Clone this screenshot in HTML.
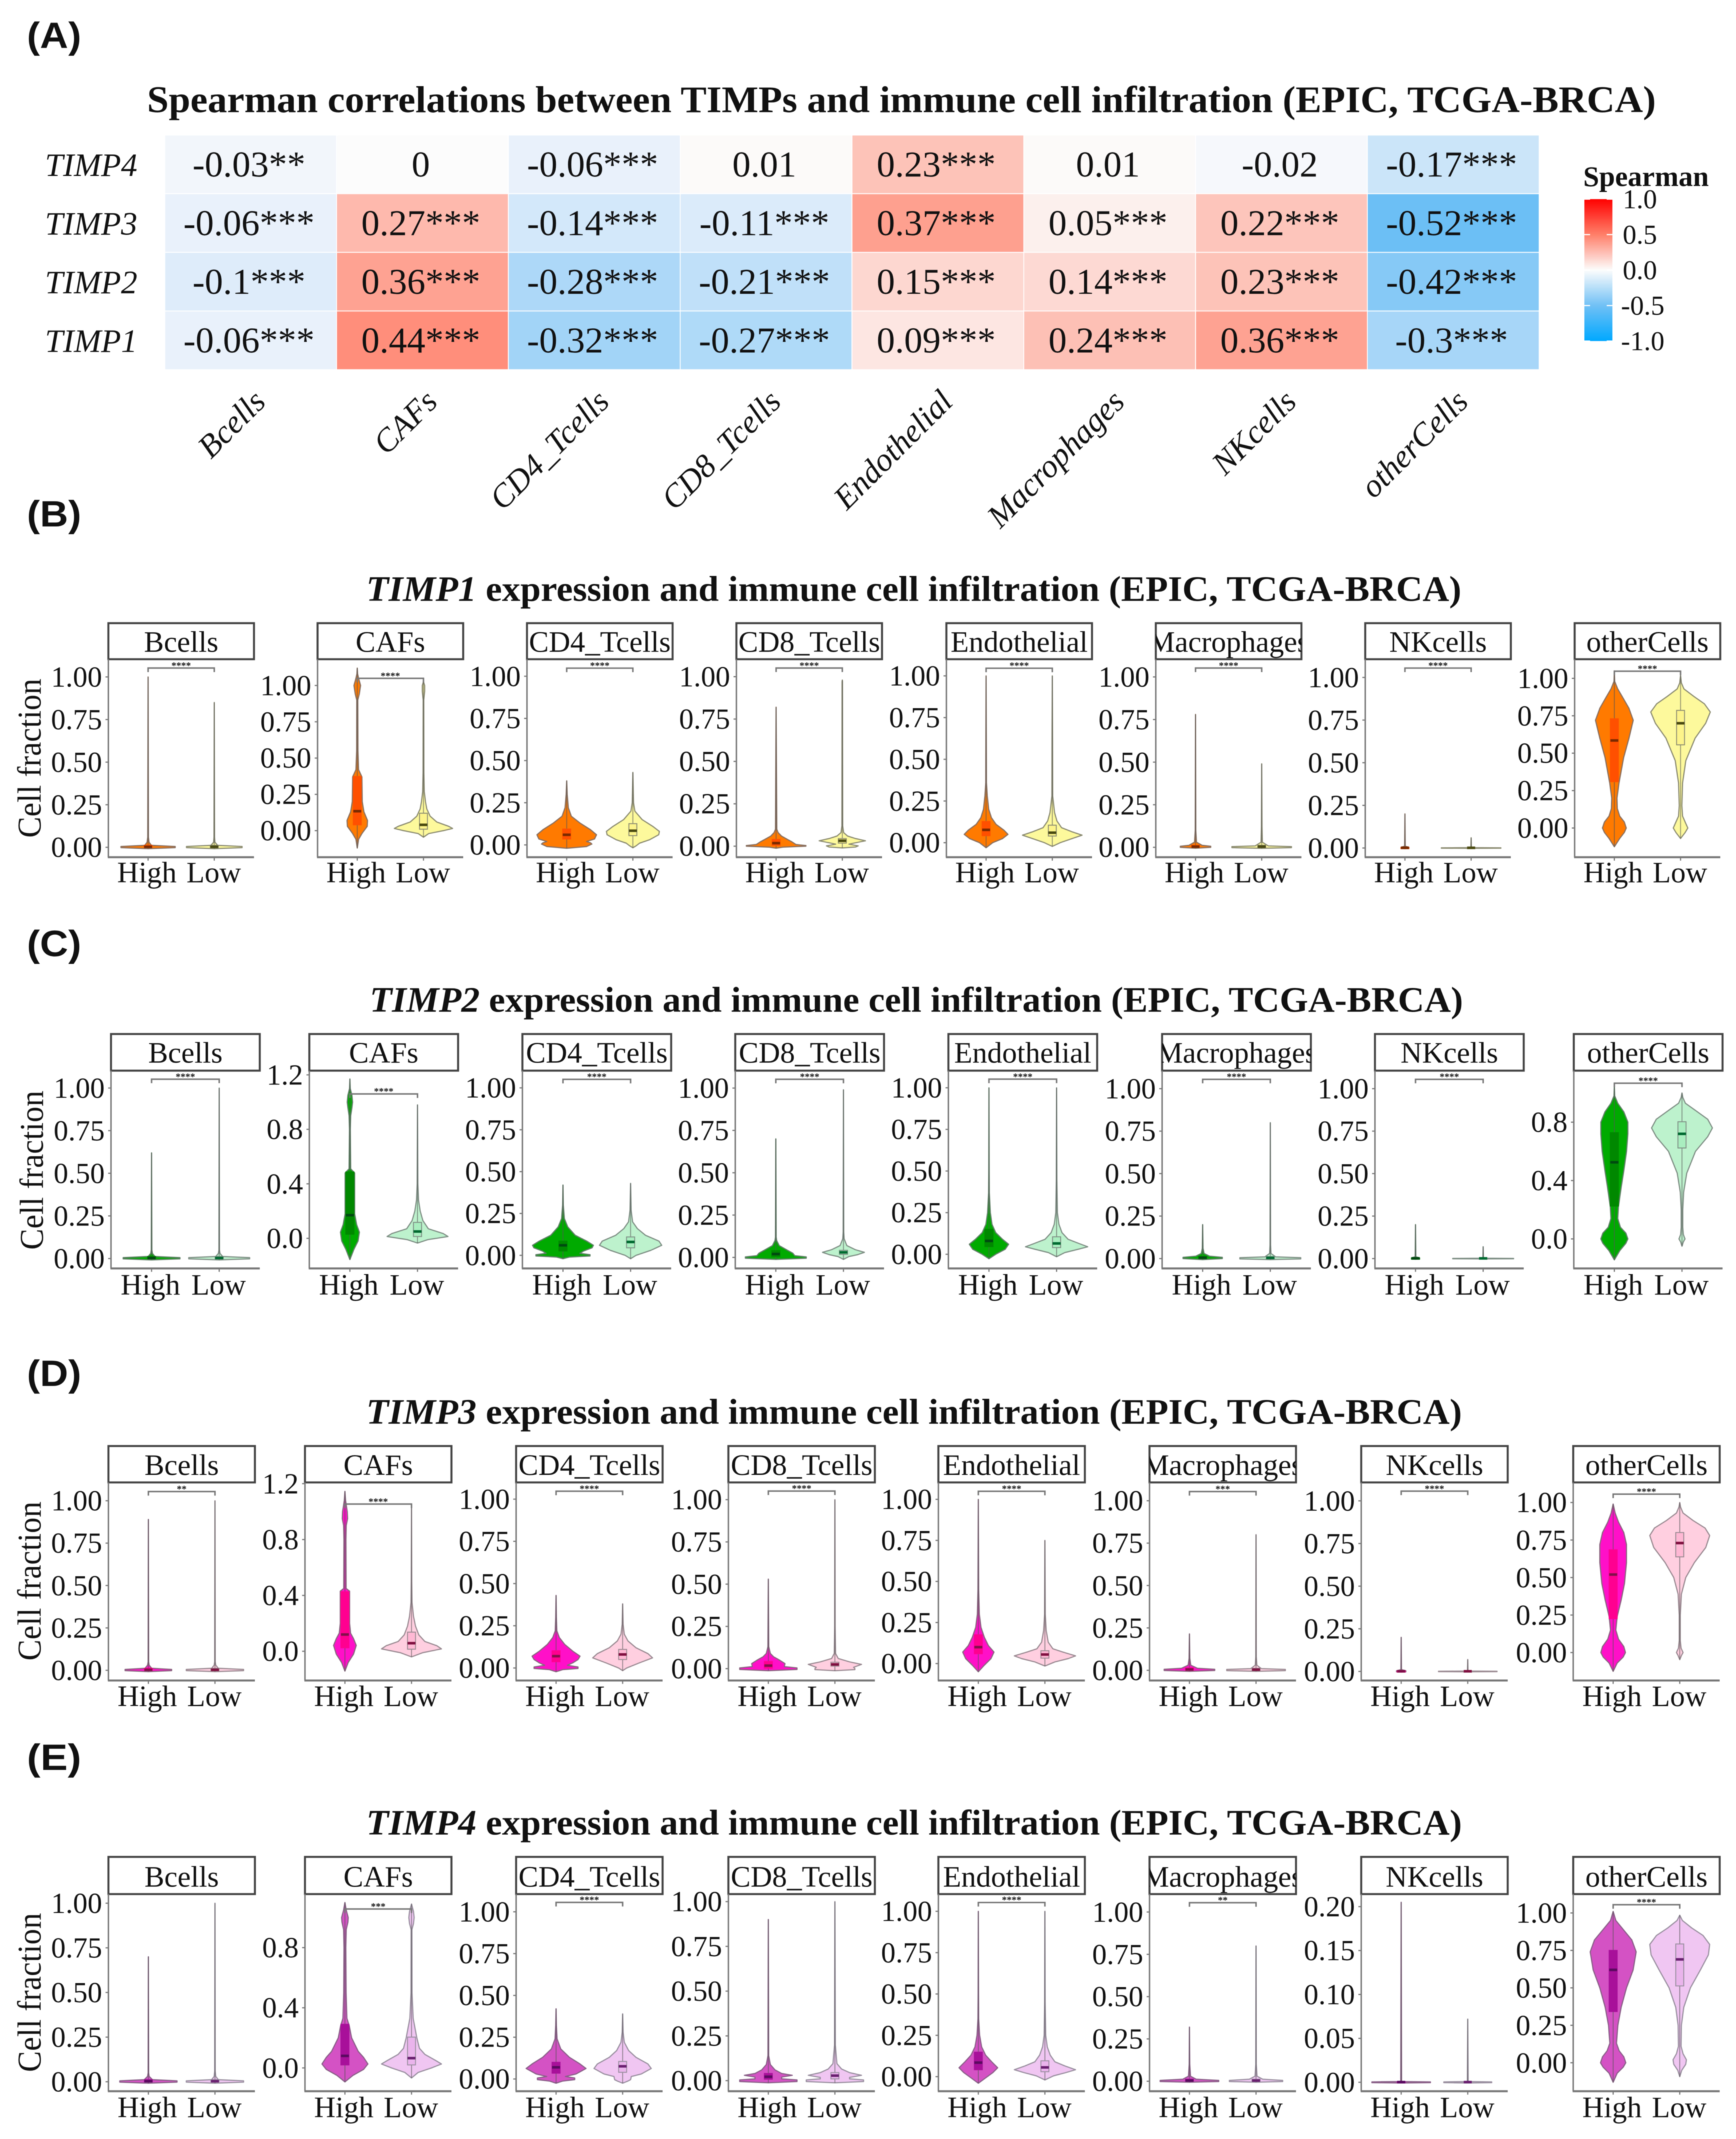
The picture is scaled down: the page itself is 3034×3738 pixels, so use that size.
<!DOCTYPE html>
<html lang="en">
<head>
<meta charset="utf-8">
<title>TIMPs and immune cell infiltration</title>
<style>
html,body{margin:0;padding:0;background:#fff;}
svg{display:block;}
text{font-family:"Liberation Serif",serif;fill:#111;}
.letter{font-family:"Liberation Sans",sans-serif;font-weight:700;font-size:64px;}
.ttl{font-weight:700;font-size:62px;}
</style>
</head>
<body>
<svg id="figure" xmlns="http://www.w3.org/2000/svg" width="3034" height="3738" viewBox="0 0 3034 3738" style="filter:blur(.9px)">
<rect width="3034" height="3738" fill="#fff"/>
<text class="letter" x="47" y="84" textLength="95" lengthAdjust="spacingAndGlyphs">(A)</text>
<text class="letter" x="47" y="920" textLength="95" lengthAdjust="spacingAndGlyphs">(B)</text>
<text class="letter" x="47" y="1671" textLength="95" lengthAdjust="spacingAndGlyphs">(C)</text>
<text class="letter" x="47" y="2422" textLength="95" lengthAdjust="spacingAndGlyphs">(D)</text>
<text class="letter" x="47" y="3093" textLength="95" lengthAdjust="spacingAndGlyphs">(E)</text>
<text class="ttl" x="257" y="196" font-size="66" textLength="2637" lengthAdjust="spacingAndGlyphs" style="font-size:66px">Spearman correlations between TIMPs and immune cell infiltration (EPIC, TCGA-BRCA)</text>
<text class="ttl" x="640" y="1050" textLength="1914" lengthAdjust="spacingAndGlyphs"><tspan font-style="italic">TIMP1</tspan> expression and immune cell infiltration (EPIC, TCGA-BRCA)</text>
<text class="ttl" x="646" y="1768" textLength="1911" lengthAdjust="spacingAndGlyphs"><tspan font-style="italic">TIMP2</tspan> expression and immune cell infiltration (EPIC, TCGA-BRCA)</text>
<text class="ttl" x="640" y="2488" textLength="1915" lengthAdjust="spacingAndGlyphs"><tspan font-style="italic">TIMP3</tspan> expression and immune cell infiltration (EPIC, TCGA-BRCA)</text>
<text class="ttl" x="640" y="3206" textLength="1915" lengthAdjust="spacingAndGlyphs"><tspan font-style="italic">TIMP4</tspan> expression and immune cell infiltration (EPIC, TCGA-BRCA)</text>
<text transform="translate(71,1325) rotate(-90)" text-anchor="middle" font-size="58" textLength="278" lengthAdjust="spacingAndGlyphs">Cell fraction</text>
<text transform="translate(75,2045) rotate(-90)" text-anchor="middle" font-size="58" textLength="278" lengthAdjust="spacingAndGlyphs">Cell fraction</text>
<text transform="translate(71,2763) rotate(-90)" text-anchor="middle" font-size="58" textLength="278" lengthAdjust="spacingAndGlyphs">Cell fraction</text>
<text transform="translate(71,3482) rotate(-90)" text-anchor="middle" font-size="58" textLength="278" lengthAdjust="spacingAndGlyphs">Cell fraction</text>
<text x="2767" y="325" font-size="50" font-weight="700">Spearman</text>
</svg>
<script>
/* ---------- heatmap values ---------- */
const cellTypes = ['Bcells','CAFs','CD4_Tcells','CD8_Tcells','Endothelial','Macrophages','NKcells','otherCells'];
const geneNames = ['TIMP4','TIMP3','TIMP2','TIMP1'];
const heatTIMP4 = [-0.03,0,-0.06,0.01,0.23,0.01,-0.02,-0.17];
const heatTIMP3 = [-0.06,0.27,-0.14,-0.11,0.37,0.05,0.22,-0.52];
const heatTIMP2 = [-0.1,0.36,-0.28,-0.21,0.15,0.14,0.23,-0.42];
const heatTIMP1 = [-0.06,0.44,-0.32,-0.27,0.09,0.24,0.36,-0.3];
const starsTIMP4 = ['**','','***','','***','','','***'];
const starsTIMP3 = ['***','***','***','***','***','***','***','***'];
const starsTIMP2 = ['***','***','***','***','***','***','***','***'];
const starsTIMP1 = ['***','***','***','***','***','***','***','***'];
const legendTicks = [1,0.5,0,-0.5,-1];
const legendLabels = ['1.0','0.5','0.0','-0.5','-1.0'];

/* ---------- shared y tick sets ---------- */
const ticksQuarter = [0,0.25,0.5,0.75,1];
const labelsQuarter = ['0.00','0.25','0.50','0.75','1.00'];
const ticksFour = [0,0.4,0.8,1.2];
const labelsFour = ['0.0','0.4','0.8','1.2'];
const ticksFourShort = [0,0.4,0.8];
const labelsFourShort = ['0.0','0.4','0.8'];
const ticksSmall = [0,0.05,0.1,0.15,0.2];
const labelsSmall = ['0.00','0.05','0.10','0.15','0.20'];
const groupLabels = ['High','Low'];

/* ---------- y domains per facet ---------- */
const domainTIMP1 = [[-0.058,1.104],[-0.183,1.181],[-0.073,1.101],[-0.065,1.103],[-0.087,1.1],[-0.058,1.104],[-0.054,1.107],[-0.195,1.128]];
const domainTIMP2 = [[-0.058,1.102],[-0.221,1.231],[-0.078,1.103],[-0.065,1.103],[-0.085,1.103],[-0.058,1.106],[-0.058,1.106],[-0.202,1.153]];
const domainTIMP3 = [[-0.06,1.108],[-0.209,1.209],[-0.074,1.099],[-0.07,1.102],[-0.103,1.103],[-0.06,1.108],[-0.053,1.108],[-0.186,1.134]];
const domainTIMP4 = [[-0.053,1.051],[-0.155,1.156],[-0.073,1.106],[-0.059,1.042],[-0.088,1.104],[-0.059,1.106],[-0.0102,0.2143],[-0.19,1.126]];

/* ---------- significance brackets ---------- */
const bracketTIMP1 = [1.052,1.049,1.048,1.051,1.046,1.052,1.055,1.048];
const bracketTIMP2 = [1.052,1.06,1.051,1.052,1.052,1.055,1.055,1.067];
const bracketTIMP3 = [1.054,1.054,1.047,1.051,1.049,1.054,1.057,1.056];
const bracketTIMP4 = [null,1.057,1.056,null,1.053,1.055,null,1.055];
const sigTIMP1 = ['****','****','****','****','****','****','****','****'];
const sigTIMP2 = ['****','****','****','****','****','****','****','****'];
const sigTIMP3 = ['**','****','****','****','****','***','****','****'];
const sigTIMP4 = ['','***','****','','****','**','','****'];

/* ---------- violins: density = [value, half-width in category units]; box = [q1, median, q3] ---------- */
const highTIMP1 = [
 {density:[[-.008,0],[-.002,.41],[.005,.41],[.012,.05],[.03,.015],[.06,.005],[1,0]],box:[0,.003,.012]},
 {density:[[-.12,0],[-.06,.02],[-.02,.07],[.03,.15],[.07,.155],[.13,.1],[.2,.075],[.37,.07],[.42,.02],[.55,.01],[.9,.008],[.94,.03],[1,.05],[1.05,.02],[1.08,.005],[1.12,0]],box:[.04,.134,.373]},
 {density:[[-.02,0],[-.01,.3],[.005,.38],[.012,.36],[.02,.3],[.035,.42],[.06,.45],[.09,.36],[.13,.2],[.17,.07],[.22,.025],[.3,.008],[.38,0]],box:[.035,.06,.094]},
 {density:[[-.012,0],[-.006,.1],[0,.45],[.004,.45],[.01,.3],[.025,.24],[.04,.17],[.06,.08],[.08,.03],[.1,.01],[.82,0]],box:[.005,.018,.04]},
 {density:[[-.03,0],[0,.1],[.025,.25],[.05,.33],[.075,.27],[.11,.15],[.15,.08],[.2,.04],[.28,.018],[.36,.005],[.5,.004],[1,0]],box:[.042,.077,.127]},
 {density:[[-.005,0],[0,.23],[.006,.23],[.012,.1],[.03,.015],[.1,.004],[.78,0]],box:[0,.004,.012]},
 {density:[[-.004,0],[-.002,.06],[.004,.06],[.01,.004],[.2,0]],box:[0,.001,.003]},
 {density:[[-.125,0],[-.07,.08],[-.03,.15],[0,.18],[.04,.15],[.08,.08],[.13,.045],[.2,.04],[.3,.07],[.47,.14],[.6,.22],[.72,.285],[.8,.22],[.87,.13],[.93,.05],[.98,.005],[1.05,0]],box:[.31,.585,.73]}
];
const lowTIMP1 = [
 {density:[[-.008,0],[-.002,.42],[.005,.42],[.012,.05],[.03,.01],[.06,.004],[.85,0]],box:[0,.003,.012]},
 {density:[[-.045,0],[-.02,.08],[0,.3],[.015,.44],[.03,.38],[.06,.2],[.1,.1],[.15,.05],[.2,.03],[.27,.012],[.4,.006],[.9,.004],[.96,.018],[1,.018],[1.02,.004],[1.03,0]],box:[.01,.04,.12]},
 {density:[[-.017,0],[-.005,.05],[.01,.1],[.03,.25],[.06,.39],[.08,.4],[.11,.3],[.15,.14],[.2,.03],[.25,.01],[.43,0]],box:[.055,.084,.126]},
 {density:[[-.01,0],[-.005,.2],[.002,.24],[.012,.1],[.02,.2],[.032,.35],[.045,.2],[.06,.08],[.08,.02],[.12,.006],[.97,.003],[.98,0]],box:[.018,.032,.045]},
 {density:[[-.022,0],[0,.12],[.025,.3],[.045,.45],[.065,.3],[.09,.14],[.13,.07],[.18,.035],[.28,.006],[.6,.004],[1,0]],box:[.04,.06,.105]},
 {density:[[-.006,0],[-.002,.45],[.004,.45],[.008,.1],[.03,.01],[.12,.004],[.49,0]],box:[0,.004,.012]},
 {density:[[-.002,0],[-.001,.45],[.001,.45],[.002,.004],[.06,0]],box:[0,.001,.003]},
 {density:[[-.07,0],[-.03,.07],[0,.11],[.03,.08],[.08,.03],[.15,.02],[.3,.03],[.45,.08],[.6,.22],[.7,.38],[.775,.45],[.83,.36],[.88,.2],[.93,.05],[.97,.012],[1.02,0]],box:[.556,.7,.786]}
];
const highTIMP2 = [
 {density:[[-.008,0],[-.002,.42],[.005,.42],[.012,.05],[.03,.012],[.05,.004],[.62,0]],box:[0,.003,.012]},
 {density:[[-.156,0],[-.08,.06],[-.02,.12],[.045,.14],[.1,.1],[.18,.07],[.48,.07],[.51,.012],[.8,.006],[.9,.012],[.96,.03],[1,.04],[1.05,.03],[1.1,.005],[1.17,0]],box:[.03,.17,.487]},
 {density:[[-.02,0],[-.01,.1],[-.004,.4],[.004,.4],[.012,.25],[.025,.3],[.045,.43],[.06,.45],[.085,.35],[.12,.18],[.17,.07],[.22,.02],[.3,.005],[.42,0]],box:[.026,.06,.085]},
 {density:[[-.012,0],[-.005,.45],[.003,.45],[.01,.28],[.025,.25],[.045,.16],[.07,.05],[.1,.012],[.12,.005],[.7,0]],box:[.005,.02,.04]},
 {density:[[-.027,0],[0,.1],[.03,.24],[.06,.29],[.09,.2],[.13,.1],[.18,.045],[.25,.02],[.37,.005],[.5,.003],[1,0]],box:[.046,.08,.15]},
 {density:[[-.006,0],[0,.29],[.007,.29],[.014,.1],[.03,.02],[.06,.005],[.2,0]],box:[0,.005,.012]},
 {density:[[-.004,0],[-.002,.06],[.004,.06],[.01,.004],[.2,0]],box:[0,.001,.003]},
 {density:[[-.143,0],[-.08,.08],[-.03,.17],[0,.2],[.04,.17],[.08,.09],[.14,.05],[.22,.06],[.35,.1],[.47,.14],[.6,.18],[.72,.2],[.8,.2],[.87,.14],[.93,.05],[.98,.005],[1.05,0]],box:[.225,.525,.728]}
];
const lowTIMP2 = [
 {density:[[-.008,0],[-.002,.45],[.005,.45],[.012,.05],[.03,.012],[.05,.004],[1,0]],box:[0,.003,.012]},
 {density:[[-.035,0],[-.01,.15],[.013,.45],[.035,.38],[.07,.16],[.13,.08],[.2,.04],[.28,.015],[.4,.005],[.98,0]],box:[.013,.05,.117]},
 {density:[[-.02,0],[0,.08],[.03,.3],[.06,.46],[.085,.42],[.12,.22],[.16,.1],[.2,.03],[.27,.008],[.43,0]],box:[.045,.08,.11]},
 {density:[[-.012,0],[.005,.08],[.015,.2],[.03,.31],[.045,.18],[.07,.05],[.11,.01],[.15,.004],[.99,0]],box:[.018,.03,.042]},
 {density:[[-.015,0],[.01,.12],[.03,.32],[.045,.46],[.065,.33],[.09,.17],[.13,.08],[.18,.035],[.25,.012],[.45,.004],[1,0]],box:[.04,.065,.105]},
 {density:[[-.006,0],[-.002,.45],[.005,.45],[.01,.08],[.03,.01],[.08,.004],[.8,0]],box:[0,.004,.012]},
 {density:[[-.002,0],[-.001,.45],[.001,.45],[.002,.004],[.07,0]],box:[0,.001,.003]},
 {density:[[-.05,0],[-.02,.02],[0,.045],[.03,.02],[.08,.012],[.2,.012],[.32,.025],[.45,.07],[.6,.2],[.7,.38],[.76,.45],[.82,.38],[.88,.2],[.93,.05],[.97,.012],[1,0]],box:[.623,.72,.803]}
];
const highTIMP3 = [
 {density:[[-.008,0],[-.002,.35],[.005,.35],[.012,.05],[.03,.012],[.05,.004],[.89,0]],box:[0,.003,.012]},
 {density:[[-.142,0],[-.08,.05],[-.02,.13],[.042,.17],[.09,.13],[.13,.085],[.2,.07],[.43,.07],[.45,.018],[.8,.015],[.9,.02],[.95,.04],[1,.035],[1.08,.01],[1.145,0]],box:[.025,.12,.426]},
 {density:[[-.022,0],[-.01,.1],[-.003,.33],[.006,.33],[.016,.17],[.03,.25],[.05,.33],[.07,.36],[.1,.25],[.14,.13],[.18,.05],[.22,.012],[.3,.005],[.43,0]],box:[.037,.07,.102]},
 {density:[[-.012,0],[-.005,.43],[.004,.43],[.012,.24],[.03,.25],[.05,.17],[.07,.08],[.09,.03],[.13,.006],[.53,0]],box:[.003,.018,.042]},
 {density:[[-.05,0],[-.01,.09],[.03,.19],[.07,.235],[.11,.15],[.16,.09],[.22,.04],[.3,.015],[.45,.005],[1,0]],box:[.06,.1,.175]},
 {density:[[-.006,0],[-.001,.38],[.006,.38],[.012,.12],[.03,.02],[.07,.005],[.215,0]],box:[0,.005,.014]},
 {density:[[-.004,0],[-.002,.07],[.004,.07],[.01,.004],[.2,0]],box:[0,.001,.003]},
 {density:[[-.125,0],[-.07,.06],[-.03,.15],[0,.185],[.04,.16],[.09,.08],[.15,.04],[.24,.06],[.35,.12],[.46,.17],[.6,.2],[.72,.2],[.8,.16],[.87,.08],[.93,.03],[.99,0]],box:[.226,.52,.685]}
];
const lowTIMP3 = [
 {density:[[-.008,0],[-.002,.43],[.005,.43],[.012,.05],[.03,.012],[.05,.004],[1,0]],box:[0,.003,.012]},
 {density:[[-.04,0],[-.01,.17],[.017,.45],[.04,.38],[.07,.2],[.117,.11],[.18,.06],[.25,.03],[.35,.008],[.5,.004],[1.037,0]],box:[.015,.058,.137]},
 {density:[[-.016,0],[0,.06],[.03,.25],[.06,.45],[.085,.38],[.12,.2],[.16,.08],[.2,.025],[.26,.007],[.38,0]],box:[.05,.08,.11]},
 {density:[[-.012,0],[-.006,.3],[0,.3],[.008,.28],[.025,.4],[.04,.22],[.06,.05],[.09,.01],[.25,.004],[1,0]],box:[.015,.025,.038]},
 {density:[[-.015,0],[.01,.15],[.03,.35],[.047,.46],[.07,.27],[.09,.12],[.13,.05],[.2,.02],[.3,.005],[.75,0]],box:[.033,.055,.078]},
 {density:[[-.006,0],[-.002,.44],[.005,.44],[.01,.08],[.03,.012],[.08,.004],[.8,0]],box:[0,.004,.012]},
 {density:[[-.002,0],[-.001,.44],[.001,.44],[.002,.004],[.07,0]],box:[0,.001,.003]},
 {density:[[-.047,0],[-.02,.025],[0,.05],[.03,.02],[.08,.008],[.25,.008],[.39,.025],[.5,.09],[.6,.22],[.7,.39],[.78,.45],[.83,.38],[.88,.2],[.93,.05],[.97,.012],[1,0]],box:[.638,.73,.8]}
];
const highTIMP4 = [
 {density:[[-.008,0],[-.002,.43],[.005,.43],[.012,.06],[.03,.012],[.05,.004],[.7,0]],box:[0,.003,.012]},
 {density:[[-.093,0],[-.05,.12],[-.01,.28],[.026,.345],[.07,.28],[.11,.2],[.2,.1],[.28,.065],[.33,.03],[.5,.018],[.8,.014],[.92,.02],[.97,.045],[1,.05],[1.05,.02],[1.1,0]],box:[.02,.08,.29]},
 {density:[[-.025,0],[-.012,.1],[-.004,.28],[.006,.28],[.015,.14],[.03,.3],[.063,.45],[.09,.36],[.13,.2],[.18,.07],[.24,.015],[.32,.005],[.42,0]],box:[.035,.07,.1]},
 {density:[[-.012,0],[-.005,.43],[.004,.43],[.01,.2],[.02,.2],[.03,.36],[.04,.2],[.06,.1],[.09,.03],[.14,.005],[.9,0]],box:[.008,.022,.04]},
 {density:[[-.04,0],[-.01,.1],[.025,.22],[.054,.29],[.09,.2],[.13,.11],[.18,.05],[.25,.02],[.35,.005],[.5,.003],[1,0]],box:[.042,.085,.148]},
 {density:[[-.006,0],[-.002,.44],[.005,.44],[.012,.1],[.03,.015],[.1,.004],[.32,0]],box:[0,.004,.012]},
 {density:[[-.0008,0],[-.0004,.44],[.0004,.44],[.0008,.006],[.205,0]],box:[0,.0002,.0006]},
 {density:[[-.13,0],[-.07,.06],[-.03,.15],[0,.19],[.04,.16],[.08,.09],[.13,.05],[.25,.07],[.37,.12],[.5,.2],[.62,.3],[.74,.345],[.82,.28],[.89,.15],[.95,.04],[1.01,0]],box:[.342,.62,.75]}
];
const lowTIMP4 = [
 {density:[[-.008,0],[-.002,.43],[.005,.43],[.012,.05],[.03,.012],[.06,.004],[1,0]],box:[0,.003,.012]},
 {density:[[-.067,0],[-.03,.1],[0,.3],[.026,.45],[.05,.36],[.09,.2],[.13,.12],[.2,.08],[.33,.025],[.5,.008],[.92,.006],[.96,.03],[1,.04],[1.04,.03],[1.09,0]],box:[.02,.065,.205]},
 {density:[[-.025,0],[-.012,.08],[-.004,.12],[.015,.13],[.03,.28],[.063,.43],[.09,.38],[.13,.2],[.17,.09],[.22,.025],[.28,.007],[.39,0]],box:[.04,.076,.105]},
 {density:[[-.012,0],[-.005,.43],[.004,.43],[.01,.22],[.018,.22],[.03,.4],[.045,.22],[.065,.1],[.095,.03],[.2,.006],[1,0]],box:[.01,.028,.045]},
 {density:[[-.02,0],[.005,.13],[.025,.32],[.042,.46],[.065,.3],[.09,.15],[.13,.08],[.18,.035],[.25,.012],[.45,.004],[1,0]],box:[.03,.056,.096]},
 {density:[[-.006,0],[-.002,.4],[.005,.4],[.012,.1],[.03,.015],[.1,.004],[.8,0]],box:[0,.004,.012]},
 {density:[[-.0008,0],[-.0004,.36],[.0004,.36],[.0008,.006],[.072,0]],box:[0,.0002,.0006]},
 {density:[[-.093,0],[-.05,.03],[-.01,.09],[.02,.1],[.06,.05],[.11,.02],[.25,.025],[.37,.06],[.5,.16],[.62,.31],[.72,.43],[.79,.45],[.85,.35],[.9,.18],[.95,.04],[.985,0]],box:[.513,.69,.793]}
];

/* ---------- layout & style (not data) ---------- */
const rows = [
 {key:'timp1',lefts:[189.4,555,921,1287,1654,2020,2386,2752],width:254.5,stripTop:1089,top:1152,bottom:1498,stripBase:1139,groupBase:1542,
  domains:domainTIMP1,brackets:bracketTIMP1,sig:sigTIMP1,high:highTIMP1,low:lowTIMP1,
  ticks:[ticksQuarter,ticksQuarter,ticksQuarter,ticksQuarter,ticksQuarter,ticksQuarter,ticksQuarter,ticksQuarter],
  labels:[labelsQuarter,labelsQuarter,labelsQuarter,labelsQuarter,labelsQuarter,labelsQuarter,labelsQuarter,labelsQuarter],
  style:{hf:'#ff7a00',hs:'#8a7060',hb:'#ff5000',hm:'#7a2a00',lf:'#fdf99c',ls:'#8c8c72',lb:'#fdf48a',lm:'#4a4a10'}},
 {key:'timp2',lefts:[194,540.6,913,1285,1657.5,2031,2403,2750.5],width:260,stripTop:1807,top:1871,bottom:2216.6,stripBase:1857,groupBase:2262.6,
  domains:domainTIMP2,brackets:bracketTIMP2,sig:sigTIMP2,high:highTIMP2,low:lowTIMP2,
  ticks:[ticksQuarter,ticksFour,ticksQuarter,ticksQuarter,ticksQuarter,ticksQuarter,ticksQuarter,ticksFourShort],
  labels:[labelsQuarter,labelsFour,labelsQuarter,labelsQuarter,labelsQuarter,labelsQuarter,labelsQuarter,labelsFourShort],
  style:{hf:'#00aa00',hs:'#5f7f66',hb:'#008800',hm:'#004a10',lf:'#bdf2cd',ls:'#7f8f85',lb:'#a9eebf',lm:'#006a30'}},
 {key:'timp3',lefts:[189.5,533,902,1273,1640,2009,2379,2749.5],width:256,stripTop:2527,top:2590.6,bottom:2936.7,stripBase:2577.5,groupBase:2981.6,
  domains:domainTIMP3,brackets:bracketTIMP3,sig:sigTIMP3,high:highTIMP3,low:lowTIMP3,
  ticks:[ticksQuarter,ticksFour,ticksQuarter,ticksQuarter,ticksQuarter,ticksQuarter,ticksQuarter,ticksQuarter],
  labels:[labelsQuarter,labelsFour,labelsQuarter,labelsQuarter,labelsQuarter,labelsQuarter,labelsQuarter,labelsQuarter],
  style:{hf:'#ff10c8',hs:'#8a6580',hb:'#ff0090',hm:'#80104a',lf:'#ffcfe0',ls:'#9a8a92',lb:'#ffb8d4',lm:'#801040'}},
 {key:'timp4',lefts:[189.5,533,902,1273,1640,2009,2379,2749.5],width:256,stripTop:3245,top:3310,bottom:3654.5,stripBase:3297,groupBase:3700,
  domains:domainTIMP4,brackets:bracketTIMP4,sig:sigTIMP4,high:highTIMP4,low:lowTIMP4,
  ticks:[ticksQuarter,ticksFourShort,ticksQuarter,ticksQuarter,ticksQuarter,ticksQuarter,ticksSmall,ticksQuarter],
  labels:[labelsQuarter,labelsFourShort,labelsQuarter,labelsQuarter,labelsQuarter,labelsQuarter,labelsSmall,labelsQuarter],
  style:{hf:'#d452c4',hs:'#8a6088',hb:'#a8109a',hm:'#5a0a60',lf:'#f0c6f2',ls:'#9a90a0',lb:'#eab4ec',lm:'#6a2070'}}
];

const SVGNS = 'http://www.w3.org/2000/svg';
const root = document.getElementById('figure');
function mk(tag, attrs, parent, txt){
  const n = document.createElementNS(SVGNS, tag);
  for (const k in attrs) n.setAttribute(k, attrs[k]);
  if (txt !== undefined) n.textContent = txt;
  (parent || root).appendChild(n);
  return n;
}

/* ---------- heatmap ---------- */
const colorStops = [[-1,[0,168,255]],[-0.5,[112,192,245]],[-0.05,[236,242,251]],[0,[252,252,252]],[0.5,[255,127,105]],[1,[255,0,0]]];
function heatColor(v){
  for (let i = 0; i < colorStops.length - 1; i++){
    const a = colorStops[i], b = colorStops[i+1];
    if (v <= b[0]){
      const t = (v - a[0]) / (b[0] - a[0]);
      const c = a[1].map((x,j) => Math.round(x + (b[1][j] - x) * t));
      return 'rgb(' + c.join(',') + ')';
    }
  }
  return 'rgb(255,0,0)';
}
const heatLeft = 288, heatRight = 2690, heatTop = 236, heatBottom = 646;
const heatX = i => heatLeft + (heatRight - heatLeft) * i / cellTypes.length;
const heatY = i => heatTop + (heatBottom - heatTop) * i / geneNames.length;
const heatRows = [heatTIMP4, heatTIMP3, heatTIMP2, heatTIMP1];
const heatStarRows = [starsTIMP4, starsTIMP3, starsTIMP2, starsTIMP1];
const heatG = mk('g', {});


heatRows.forEach((vals, r) => {
  const h = heatY(1) - heatY(0), w = heatX(1) - heatX(0);
  const lab = mk('text', {x:240, y:heatY(r) + h/2 + 20, 'text-anchor':'end', 'font-size':57, 'font-style':'italic'}, heatG, geneNames[r]);
  
  
  vals.forEach((v, c) => {
    const cell = mk('rect', {x:heatX(c), y:heatY(r), width:w, height:h, fill:heatColor(v), stroke:'#fff', 'stroke-width':1.5}, heatG);
    
    
    const t = mk('text', {x:heatX(c) + w/2 - 3, y:heatY(r) + h/2 + 21, 'text-anchor':'middle', 'font-size':64}, heatG, String(v) + heatStarRows[r][c]);
    
    
  });
});
cellTypes.forEach((name, c) => {
  const cx = heatX(c) + (heatX(1) - heatX(0)) / 2;
  const t = mk('text', {transform:'translate(' + (cx + 29) + ',705) rotate(-45)', 'text-anchor':'end', 'font-size':57, 'font-style':'italic'}, heatG, name);
  
  
});

/* ---------- heatmap legend ---------- */
const defs = mk('defs', {});
const grad = mk('linearGradient', {id:'legendGrad', x1:0, y1:0, x2:0, y2:1}, defs);
legendTicks.forEach((v, i) => mk('stop', {offset:(i / (legendTicks.length - 1)), 'stop-color':heatColor(v)}, grad));
const legendTop = 348, legendBottom = 596;
const legendY = v => legendBottom - (v + 1) / 2 * (legendBottom - legendTop);
const legendBar = mk('rect', {x:2769, y:legendTop, width:49, height:legendBottom - legendTop, fill:'url(#legendGrad)'});


legendTicks.forEach((v, i) => {
  const y = legendY(v);
  mk('line', {x1:2769, x2:2779, y1:y, y2:y, stroke:'#fff', 'stroke-width':2});
  mk('line', {x1:2808, x2:2818, y1:y, y2:y, stroke:'#fff', 'stroke-width':2});
  const t = mk('text', {x:v < 0 ? 2833 : 2836, y:y + 16, 'font-size':48}, root, legendLabels[i]);
  
  
});

/* ---------- violin facets ---------- */
function drawViolin(group, item, cx, unit, y, fill, stroke, boxFill, medCol, boxStroke){
  const pts = item.density;
  const right = pts.map(p => (cx + p[1] * unit).toFixed(1) + ',' + y(p[0]).toFixed(1));
  const left = pts.slice().reverse().map(p => (cx - p[1] * unit).toFixed(1) + ',' + y(p[0]).toFixed(1));
  const shape = mk('polygon', {points:right.concat(left).join(' '), fill:fill, stroke:stroke, 'stroke-width':2, 'stroke-linejoin':'round'}, group);
  
  
  const whisker = mk('line', {x1:cx, x2:cx, y1:y(pts[0][0]), y2:y(pts[pts.length-1][0]), stroke:'#555', 'stroke-width':1.6, 'stroke-opacity':.6}, group);
  
  
  const bw = 0.12 * unit;
  const box = mk('rect', {x:cx - bw/2, y:y(item.box[2]), width:bw, height:Math.max(y(item.box[0]) - y(item.box[2]), 2), fill:boxFill, stroke:boxStroke, 'stroke-width':1.6}, group);
  
  
  const med = mk('line', {x1:cx - bw/2, x2:cx + bw/2, y1:y(item.box[1]), y2:y(item.box[1]), stroke:medCol, 'stroke-width':4.5}, group);
  
  
}

rows.forEach((row, ri) => {
  cellTypes.forEach((name, f) => {
    const L = row.lefts[f], W = row.width, T = row.top, B = row.bottom;
    const dom = row.domains[f];
    const y = v => B - (v - dom[0]) / (dom[1] - dom[0]) * (B - T);
    const unit = W / 2.2;
    const x = i => L + W * (0.6 + i) / 2.2;
    const g = mk('g', {});
    
    

    /* strip */
    const clipId = 'clip' + ri + '_' + f;
    const cp = mk('clipPath', {id:clipId}, defs);
    mk('rect', {x:L, y:row.stripTop, width:W, height:T - row.stripTop}, cp);
    const strip = mk('rect', {x:L, y:row.stripTop, width:W, height:T - row.stripTop, fill:'#fff', stroke:'#444', 'stroke-width':3.5}, g);
    
    
    const stripText = mk('text', {x:L + W/2, y:row.stripBase, 'text-anchor':'middle', 'font-size':52, 'clip-path':'url(#' + clipId + ')'}, g, name);
    
    

    /* axes */
    const yAxis = mk('line', {x1:L, x2:L, y1:T, y2:B, stroke:'#777', 'stroke-width':2.5}, g);
    
    
    const xAxis = mk('line', {x1:L - 1, x2:L + W, y1:B, y2:B, stroke:'#777', 'stroke-width':3.5}, g);
    
    
    row.ticks[f].forEach((v, i) => {
      mk('line', {x1:L - 5, x2:L, y1:y(v), y2:y(v), stroke:'#777', 'stroke-width':2}, g);
      const t = mk('text', {x:L - 11, y:y(v) + 17, 'text-anchor':'end', 'font-size':51}, g, row.labels[f][i]);
      
      
    });
    groupLabels.forEach((lab, i) => {
      mk('line', {x1:x(i), x2:x(i), y1:B, y2:B + 6, stroke:'#777', 'stroke-width':2}, g);
      const t = mk('text', {x:x(i) + (i === 0 ? -2 : -1), y:row.groupBase, 'text-anchor':'middle', 'font-size':52}, g, lab);
      
      
    });

    /* violins */
    const st = row.style;
    drawViolin(g, row.high[f], x(0), unit, y, st.hf, st.hs, st.hb, st.hm, st.hb);
    drawViolin(g, row.low[f], x(1), unit, y, st.lf, st.ls, st.lb, st.lm, st.ls);

    /* significance */
    const bv = row.brackets[f];
    if (bv !== null){
      const by = y(bv);
      const br = mk('polyline', {points:x(0) + ',' + (by + 7) + ' ' + x(0) + ',' + by + ' ' + x(1) + ',' + by + ' ' + x(1) + ',' + (by + 7), fill:'none', stroke:'#777', 'stroke-width':2.6}, g);
      
      
      const s = mk('text', {x:(x(0) + x(1)) / 2, y:by + 1, 'text-anchor':'middle', 'font-size':17, 'font-weight':700, fill:'#333'}, g, row.sig[f]);
      
      
    }
  });
});
</script>
</body>
</html>
